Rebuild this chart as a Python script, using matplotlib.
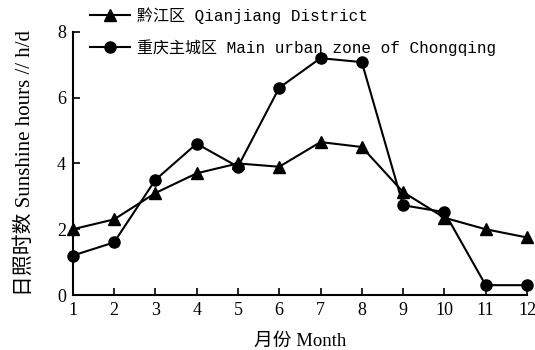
import matplotlib
matplotlib.use("Agg")
import matplotlib.pyplot as plt

months = [1, 2, 3, 4, 5, 6, 7, 8, 9, 10, 11, 12]
qianjiang = [2.0, 2.3, 3.1, 3.7, 4.0, 3.9, 4.65, 4.5, 3.13, 2.35, 2.0, 1.75]
chongqing = [1.2, 1.6, 3.5, 4.6, 3.9, 6.3, 7.2, 7.08, 2.73, 2.52, 0.3, 0.3]
label_qj = "黔江区 Qianjiang District"
label_cq = "重庆主城区 Main urban zone of Chongqing"
xlabel = "月份 Month"
ylabel = "日照时数 Sunshine hours // h/d"

serif = ["Liberation Serif", "Noto Sans CJK SC"]
mono = ["Liberation Mono", "Noto Sans CJK SC"]

fig = plt.figure(figsize=(5.35, 3.5), dpi=100)
ax = fig.add_axes([0.136, 0.157, 0.849, 0.752])

ax.plot(months, qianjiang, color="black", lw=1.5, marker="^", ms=8,
        clip_on=False, label=label_qj, zorder=3)
ax.plot(months, chongqing, color="black", lw=1.5, marker="o", ms=8,
        clip_on=False, label=label_cq, zorder=3)

ax.set_xlim(1, 12)
ax.set_ylim(0, 8)
ax.set_xticks(months)
ax.set_yticks([0, 2, 4, 6, 8])
for s in ("top", "right"):
    ax.spines[s].set_visible(False)
for s in ("left", "bottom"):
    ax.spines[s].set_linewidth(1.5)
ax.tick_params(direction="in", length=5, width=1.2, pad=5)
for lab in ax.get_xticklabels() + ax.get_yticklabels():
    lab.set_fontfamily(serif)
    lab.set_fontsize(13)

ax.set_xlabel(xlabel, family=serif, fontsize=13.5, labelpad=10)
ax.set_ylabel(ylabel, family=serif, fontsize=15, labelpad=16)

leg = ax.legend(loc="upper left", bbox_to_anchor=(0.168, 0.98),
                bbox_transform=fig.transFigure, frameon=False,
                prop={"family": mono, "size": 11.5}, handlelength=2.5,
                handletextpad=0.45, labelspacing=0.95, borderaxespad=0,
                borderpad=0)

fig.savefig("out.png", dpi=100)
